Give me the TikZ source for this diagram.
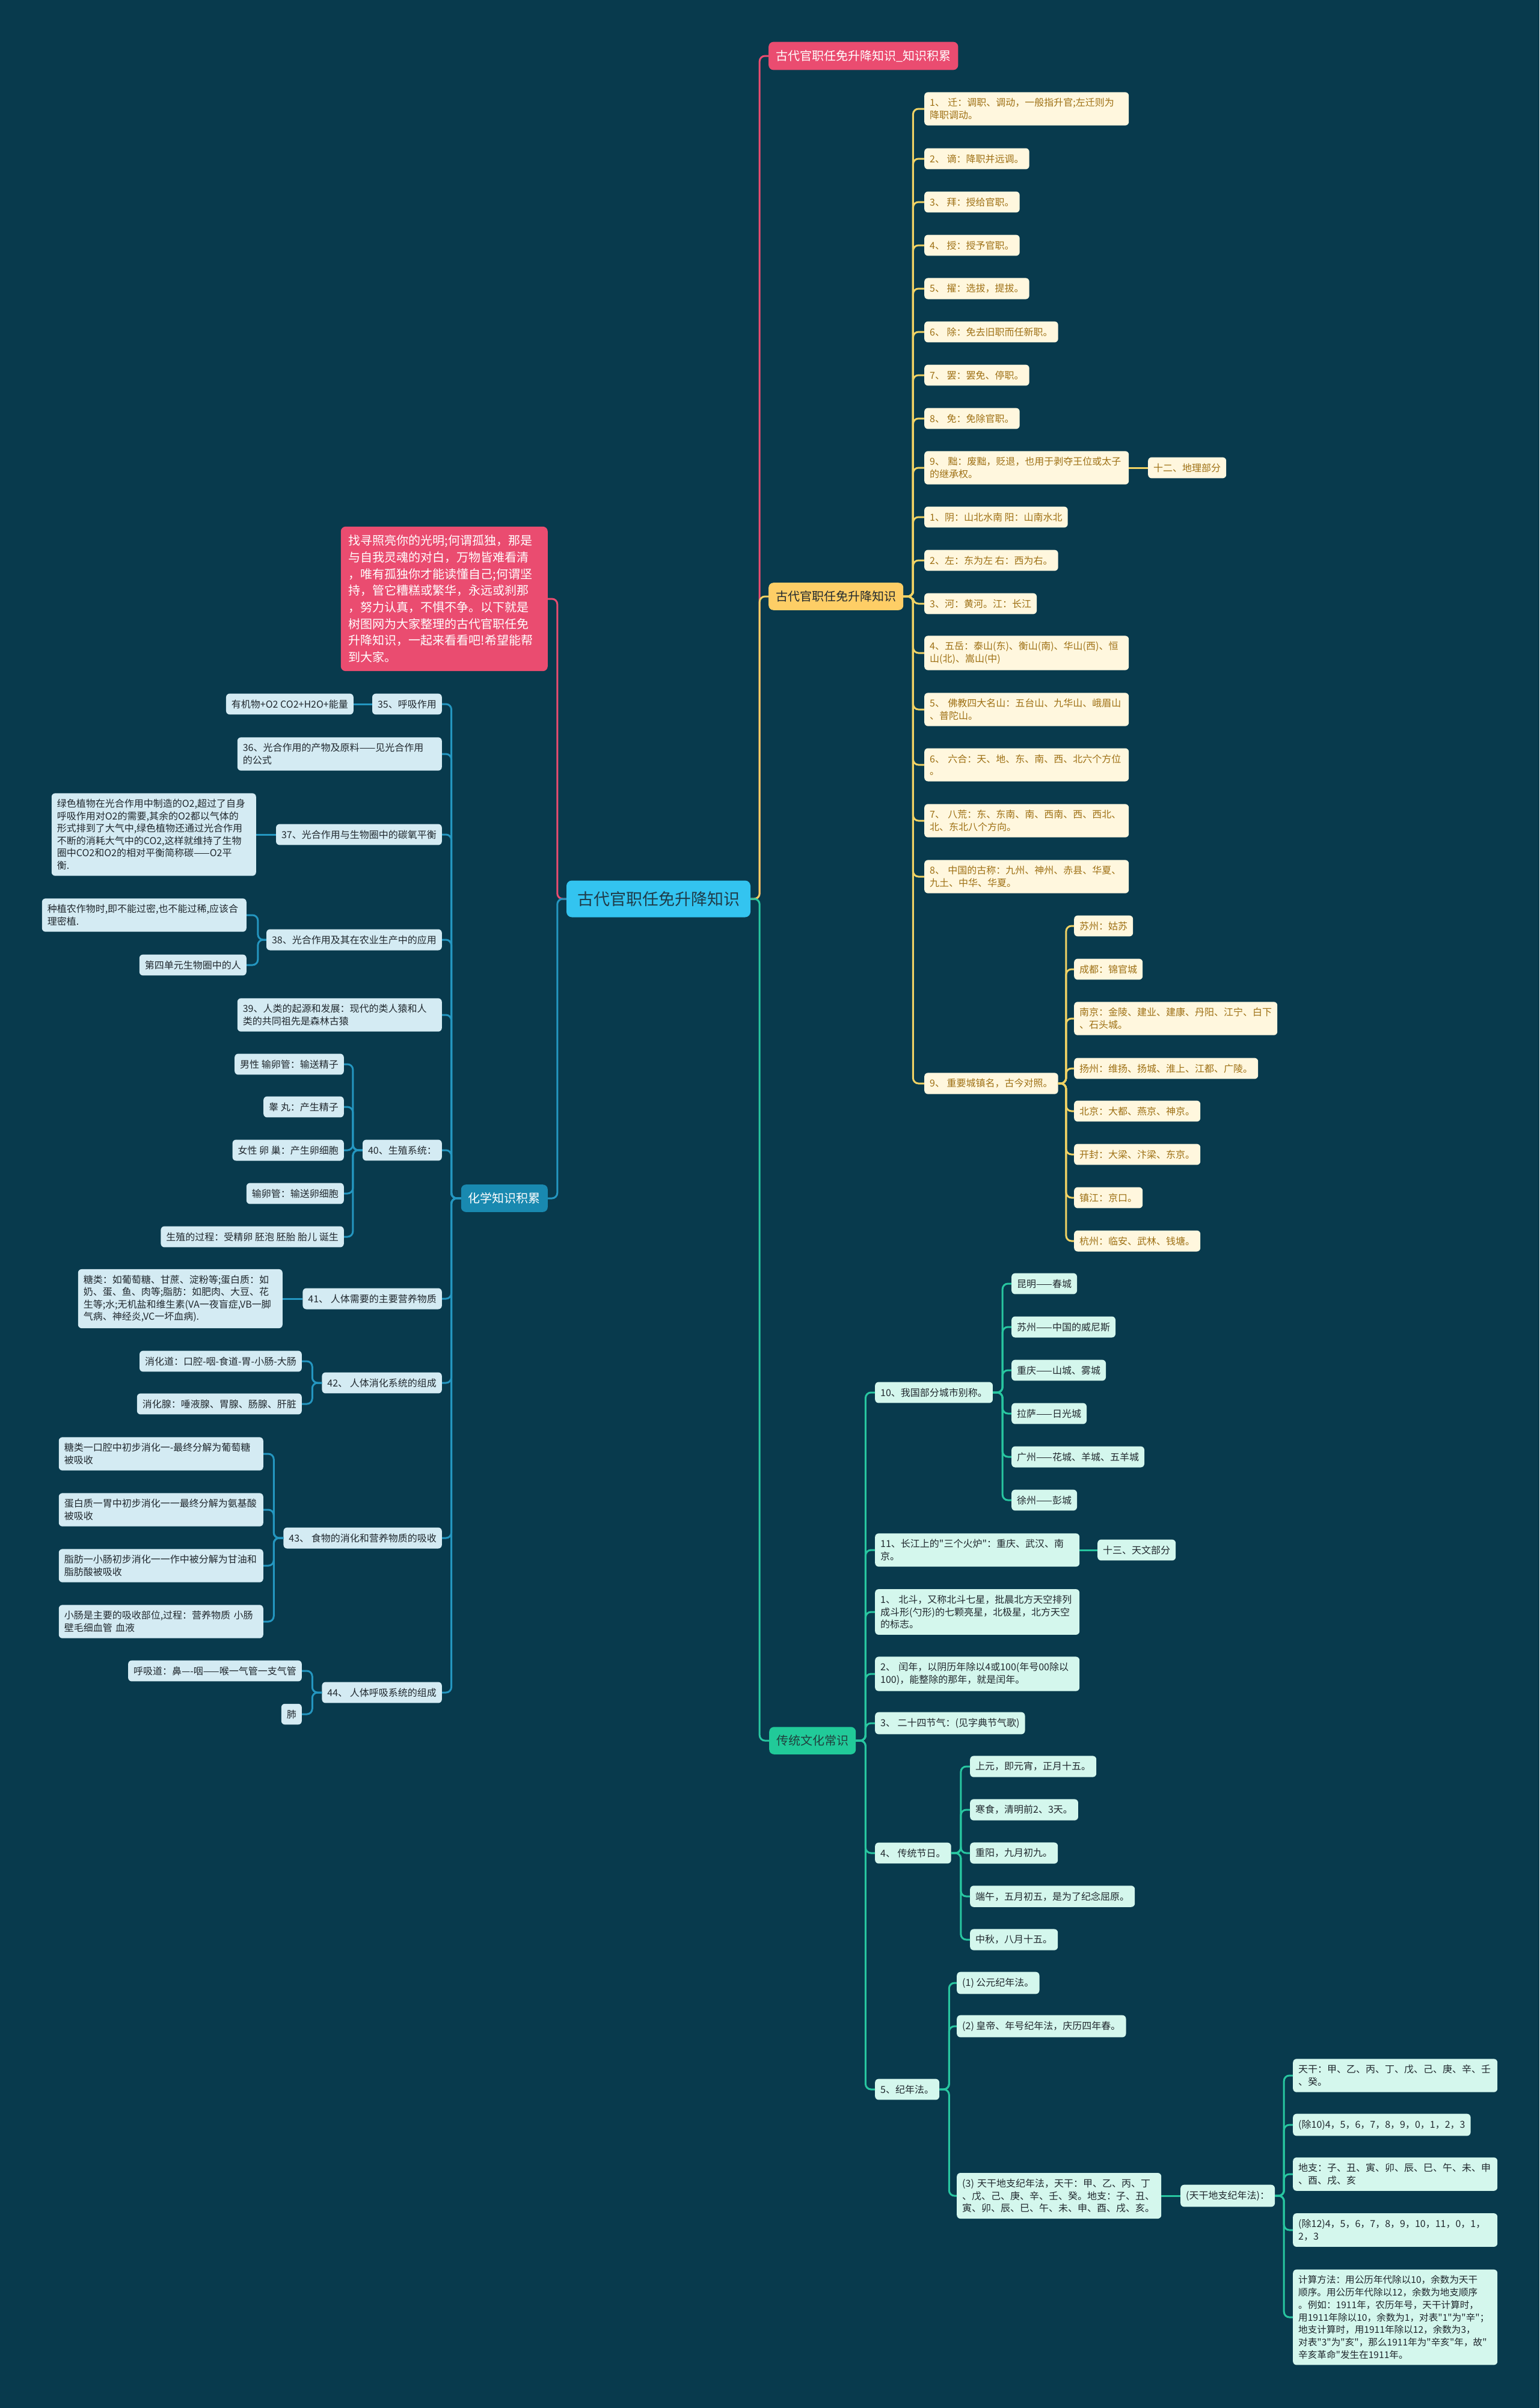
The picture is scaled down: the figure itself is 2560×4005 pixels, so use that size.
\documentclass[tikz,border=0pt]{standalone}
\usepackage{fontspec}
\setmainfont{Noto Sans CJK SC}[Ligatures=TeXOff]
\usepackage{xcolor}
\definecolor{mlbg}{RGB}{8,58,77}
\definecolor{mlpink}{RGB}{234,76,112}
\definecolor{mlyellow}{RGB}{254,206,102}
\definecolor{mlyelline}{RGB}{240,210,100}
\definecolor{mlcream}{RGB}{255,247,222}
\definecolor{mlgold}{RGB}{158,112,20}
\definecolor{mlsky}{RGB}{51,196,240}
\definecolor{mlsea}{RGB}{25,137,176}
\definecolor{mlblueline}{RGB}{36,150,192}
\definecolor{mlice}{RGB}{212,235,243}
\definecolor{mlgreen}{RGB}{33,202,153}
\definecolor{mlgreenline}{RGB}{40,198,160}
\definecolor{mlmint}{RGB}{212,247,237}
\definecolor{mlink}{RGB}{32,40,46}
\usepackage{tikz}
\usetikzlibrary{positioning}

\begin{document}
\begin{tikzpicture}[x=1pt, y=-1pt,
    leafnode/.style={rectangle, rounded corners=6pt, inner xsep=9pt, inner ysep=10pt,
                     align=left, font=\fontsize{16}{20.5}\selectfont},
    wrapped/.style={text width=322pt},
    yleaf/.style={leafnode, fill=mlcream, text=mlgold, anchor=west},
    bleaf/.style={leafnode, fill=mlice, text=mlink, anchor=east},
    gleaf/.style={leafnode, fill=mlmint, text=mlink, anchor=west},
    mainnode/.style={rectangle, rounded corners=8pt, inner xsep=12pt, inner ysep=13.5pt,
                     font=\fontsize{20}{26}\selectfont},
    pinklink/.style={draw=mlpink, line width=3pt, rounded corners=9pt},
    yellink/.style={draw=mlyelline, line width=3pt, rounded corners=9pt},
    bluelink/.style={draw=mlblueline, line width=3pt, rounded corners=9pt},
    greenlink/.style={draw=mlgreenline, line width=3pt, rounded corners=9pt}]

% --- background ---
\fill[mlbg] (0,0) rectangle (2560,4005);

% --- centre ---
\node[rectangle, rounded corners=9pt, fill=mlsky, text=mlink!80!mlsea, inner xsep=18pt, inner ysep=18pt,
      font=\fontsize{27}{32}\selectfont] (root) at (1095,1495) {古代官职任免升降知识};

% --- right: title and office branch ---
\node[mainnode, fill=mlpink, text=white, anchor=west] (title) at (1278,93) {古代官职任免升降知识\_知识积累};
\node[mainnode, fill=mlyellow, text=mlink, anchor=west] (office) at (1278,992) {古代官职任免升降知识};

\node[yleaf, wrapped] (q1) at (1537,181) {1、 迁：调职、调动，一般指升官;左迁则为\\降职调动。};
\node[yleaf] (q2) at (1537,264) {2、 谪：降职并远调。};
\node[yleaf] (q3) at (1537,336) {3、 拜：授给官职。};
\node[yleaf] (q4) at (1537,408) {4、 授：授予官职。};
\node[yleaf] (q5) at (1537,480) {5、 擢：选拔，提拔。};
\node[yleaf] (q6) at (1537,552) {6、 除：免去旧职而任新职。};
\node[yleaf] (q7) at (1537,624) {7、 罢：罢免、停职。};
\node[yleaf] (q8) at (1537,696) {8、 免：免除官职。};
\node[yleaf, wrapped] (q9) at (1537,778) {9、 黜：废黜，贬退，也用于剥夺王位或太子\\的继承权。};
\node[yleaf] (geo) at (1909,778) {十二、地理部分};
\node[yleaf] (g1) at (1537,860) {1、阴：山北水南 阳：山南水北};
\node[yleaf] (g2) at (1537,932) {2、左：东为左 右：西为右。};
\node[yleaf] (g3) at (1537,1004) {3、河：黄河。江：长江};
\node[yleaf, wrapped] (g4) at (1537,1086) {4、五岳：泰山(东)、衡山(南)、华山(西)、恒\\山(北)、嵩山(中)};
\node[yleaf, wrapped] (g5) at (1537,1180) {5、 佛教四大名山：五台山、九华山、峨眉山\\、普陀山。};
\node[yleaf, wrapped] (g6) at (1537,1272) {6、 六合：天、地、东、南、西、北六个方位\\。};
\node[yleaf, wrapped] (g7) at (1537,1365) {7、 八荒：东、东南、南、西南、西、西北、\\北、东北八个方向。};
\node[yleaf, wrapped] (g8) at (1537,1458) {8、 中国的古称：九州、神州、赤县、华夏、\\九土、中华、华夏。};
\node[yleaf] (g9) at (1537,1802) {9、 重要城镇名，古今对照。};

\node[yleaf] (t1) at (1786,1540) {苏州：姑苏};
\node[yleaf] (t2) at (1786,1612) {成都：锦官城};
\node[yleaf] (t3) at (1786,1694) {南京：金陵、建业、建康、丹阳、江宁、白下\\、石头城。};
\node[yleaf] (t4) at (1786,1777) {扬州：维扬、扬城、淮上、江都、广陵。};
\node[yleaf] (t5) at (1786,1848) {北京：大都、燕京、神京。};
\node[yleaf] (t6) at (1786,1920) {开封：大梁、汴梁、东京。};
\node[yleaf] (t7) at (1786,1992) {镇江：京口。};
\node[yleaf] (t8) at (1786,2064) {杭州：临安、武林、钱塘。};

% --- right: culture branch ---
\node[mainnode, fill=mlgreen, text=mlink!85!mlgreen, anchor=west] (culture) at (1279,2895) {传统文化常识};

\node[gleaf] (c10) at (1455,2316) {10、我国部分城市别称。};
\node[gleaf, wrapped] (c11) at (1455,2578) {11、长江上的"三个火炉"：重庆、武汉、南\\京。};
\node[gleaf] (astro) at (1825,2578) {十三、天文部分};
\node[gleaf, wrapped] (c1) at (1455,2681) {1、 北斗，又称北斗七星，批晨北方天空排列\\成斗形(勺形)的七颗亮星，北极星，北方天空\\的标志。};
\node[gleaf, wrapped] (c2) at (1455,2784) {2、 闰年，以阴历年除以4或100(年号00除以\\100)，能整除的那年，就是闰年。};
\node[gleaf] (c3) at (1455,2866) {3、 二十四节气：(见字典节气歌)};
\node[gleaf] (c4) at (1455,3082) {4、 传统节日。};
\node[gleaf] (c5) at (1455,3475) {5、纪年法。};

\node[gleaf] (k1) at (1682,2135) {昆明——春城};
\node[gleaf] (k2) at (1682,2207) {苏州——中国的威尼斯};
\node[gleaf] (k3) at (1682,2279) {重庆——山城、雾城};
\node[gleaf] (k4) at (1682,2351) {拉萨——日光城};
\node[gleaf] (k5) at (1682,2423) {广州——花城、羊城、五羊城};
\node[gleaf] (k6) at (1682,2495) {徐州——彭城};

\node[gleaf] (f1) at (1613,2938) {上元，即元宵，正月十五。};
\node[gleaf] (f2) at (1613,3010) {寒食，清明前2、3天。};
\node[gleaf] (f3) at (1613,3082) {重阳，九月初九。};
\node[gleaf] (f4) at (1613,3154) {端午，五月初五，是为了纪念屈原。};
\node[gleaf] (f5) at (1613,3226) {中秋，八月十五。};

\node[gleaf] (y1) at (1591,3298) {(1) 公元纪年法。};
\node[gleaf] (y2) at (1591,3370) {(2) 皇帝、年号纪年法，庆历四年春。};
\node[gleaf, wrapped] (y3) at (1591,3652) {(3) 天干地支纪年法，天干：甲、乙、丙、丁\\、戊、己、庚、辛、壬、癸。地支：子、丑、\\寅、卯、辰、巳、午、未、申、酉、戌、亥。};
\node[gleaf] (tg) at (1963,3652) {(天干地支纪年法)：};

\node[gleaf, wrapped] (s1) at (2150,3452) {天干：甲、乙、丙、丁、戊、己、庚、辛、壬\\、癸。};
\node[gleaf] (s2) at (2150,3534) {(除10)4，5，6，7，8，9，0，1，2，3};
\node[gleaf, wrapped] (s3) at (2150,3616) {地支：子、丑、寅、卯、辰、巳、午、未、申\\、酉、戌、亥};
\node[gleaf, wrapped] (s4) at (2150,3709) {(除12)4，5，6，7，8，9，10，11，0，1，\\2，3};
\node[gleaf, wrapped, font=\fontsize{15.6}{20.7}\selectfont] (s5) at (2150,3854) {计算方法：用公历年代除以10，余数为天干\\顺序。用公历年代除以12，余数为地支顺序\\。例如：1911年，农历年号，天干计算时，\\用1911年除以10，余数为1，对表"1"为"辛"；\\地支计算时，用1911年除以12，余数为3，\\对表"3"为"亥"，那么1911年为"辛亥"年，故"\\辛亥革命"发生在1911年。};

% --- left: intro and chemistry branch ---
\node[rectangle, rounded corners=8pt, fill=mlpink, text=white, anchor=east, inner xsep=13pt, inner ysep=14pt,
      align=left, text width=318pt, font=\fontsize{20}{27.7}\selectfont] (intro) at (911,996)
      {找寻照亮你的光明;何谓孤独，那是\\与自我灵魂的对白，万物皆难看清\\，唯有孤独你才能读懂自己;何谓坚\\持，管它糟糕或繁华，永远或刹那\\，努力认真，不惧不争。以下就是\\树图网为大家整理的古代官职任免\\升降知识，一起来看看吧!希望能帮\\到大家。};
\node[mainnode, fill=mlsea, text=white, anchor=east] (chem) at (911,1993) {化学知识积累};

\node[bleaf] (n35) at (735,1171) {35、呼吸作用};
\node[bleaf] (n35a) at (588,1171) {有机物+O2 CO2+H2O+能量};
\node[bleaf, wrapped] (n36) at (735,1254) {36、光合作用的产物及原料——见光合作用\\的公式};
\node[bleaf] (n37) at (735,1388) {37、光合作用与生物圈中的碳氧平衡};
\node[bleaf, wrapped] (n37a) at (426,1388) {绿色植物在光合作用中制造的O2,超过了自身\\呼吸作用对O2的需要,其余的O2都以气体的\\形式排到了大气中,绿色植物还通过光合作用\\不断的消耗大气中的CO2,这样就维持了生物\\圈中CO2和O2的相对平衡简称碳——O2平\\衡.};
\node[bleaf] (n38) at (735,1563) {38、光合作用及其在农业生产中的应用};
\node[bleaf, wrapped] (n38a) at (410,1522) {种植农作物时,即不能过密,也不能过稀,应该合\\理密植.};
\node[bleaf] (n38b) at (410,1605) {第四单元生物圈中的人};
\node[bleaf, wrapped] (n39) at (735,1688) {39、人类的起源和发展：现代的类人猿和人\\类的共同祖先是森林古猿};
\node[bleaf] (n40) at (735,1913) {40、生殖系统：};
\node[bleaf] (n40a) at (572,1770) {男性 输卵管：输送精子};
\node[bleaf] (n40b) at (572,1841) {睾 丸：产生精子};
\node[bleaf] (n40c) at (572,1913) {女性 卵 巢：产生卵细胞};
\node[bleaf] (n40d) at (572,1985) {输卵管：输送卵细胞};
\node[bleaf] (n40e) at (572,2057) {生殖的过程：受精卵 胚泡 胚胎 胎儿 诞生};
\node[bleaf] (n41) at (735,2160) {41、 人体需要的主要营养物质};
\node[bleaf, wrapped] (n41a) at (470,2160) {糖类：如葡萄糖、甘蔗、淀粉等;蛋白质：如\\奶、蛋、鱼、肉等;脂肪：如肥肉、大豆、花\\生等;水;无机盐和维生素(VA一夜盲症,VB一脚\\气病、神经炎,VC一坏血病).};
\node[bleaf] (n42) at (735,2300) {42、 人体消化系统的组成};
\node[bleaf] (n42a) at (502,2264) {消化道：口腔-咽-食道-胃-小肠-大肠};
\node[bleaf] (n42b) at (502,2335) {消化腺：唾液腺、胃腺、肠腺、肝脏};
\node[bleaf] (n43) at (735,2558) {43、 食物的消化和营养物质的吸收};
\node[bleaf, wrapped] (n43a) at (438,2418) {糖类一口腔中初步消化一-最终分解为葡萄糖\\被吸收};
\node[bleaf, wrapped] (n43b) at (438,2511) {蛋白质一胃中初步消化一一最终分解为氨基酸\\被吸收};
\node[bleaf, wrapped] (n43c) at (438,2604) {脂肪一小肠初步消化一一作中被分解为甘油和\\脂肪酸被吸收};
\node[bleaf, wrapped] (n43d) at (438,2697) {小肠是主要的吸收部位,过程：营养物质 小肠\\壁毛细血管 血液};
\node[bleaf] (n44) at (735,2815) {44、 人体呼吸系统的组成};
\node[bleaf] (n44a) at (502,2779) {呼吸道：鼻—-咽——喉一气管一支气管};
\node[bleaf] (n44b) at (502,2851) {肺};

% --- connectors ---
\draw[pinklink] (root.east) -- ++(15,0) |- (title.west);
\draw[yellink] (root.east) -- ++(15,0) |- (office.west);
\draw[greenlink] (root.east) -- ++(15,0) |- (culture.west);
\draw[pinklink] (root.west) -- ++(-15,0) |- (intro.east);
\draw[bluelink] (root.west) -- ++(-15,0) |- (chem.east);

\foreach \n in {q1,q2,q3,q4,q5,q6,q7,q8,q9,g1,g2,g3,g4,g5,g6,g7,g8,g9}
    \draw[yellink] (office.east) -- ++(16,0) |- (\n.west);
\draw[yellink] (q9.east) -- (geo.west);
\foreach \n in {t1,t2,t3,t4,t5,t6,t7,t8}
    \draw[yellink] (g9.east) -- ++(13,0) |- (\n.west);

\foreach \n in {c10,c11,c1,c2,c3,c4,c5}
    \draw[greenlink] (culture.east) -- ++(16,0) |- (\n.west);
\draw[greenlink] (c11.east) -- (astro.west);
\foreach \n in {k1,k2,k3,k4,k5,k6}
    \draw[greenlink] (c10.east) -- ++(16,0) |- (\n.west);
\foreach \n in {f1,f2,f3,f4,f5}
    \draw[greenlink] (c4.east) -- ++(16,0) |- (\n.west);
\foreach \n in {y1,y2,y3}
    \draw[greenlink] (c5.east) -- ++(16,0) |- (\n.west);
\draw[greenlink] (y3.east) -- (tg.west);
\foreach \n in {s1,s2,s3,s4,s5}
    \draw[greenlink] (tg.east) -- ++(15,0) |- (\n.west);

\foreach \n in {n35,n36,n37,n38,n39,n40,n41,n42,n43,n44}
    \draw[bluelink] (chem.west) -- ++(-16,0) |- (\n.east);
\draw[bluelink] (n35.west) -- (n35a.east);
\draw[bluelink] (n37.west) -- (n37a.east);
\draw[bluelink] (n41.west) -- (n41a.east);
\foreach \n in {n38a,n38b}
    \draw[bluelink] (n38.west) -- ++(-14,0) |- (\n.east);
\foreach \n in {n40a,n40b,n40c,n40d,n40e}
    \draw[bluelink] (n40.west) -- ++(-16,0) |- (\n.east);
\foreach \n in {n42a,n42b}
    \draw[bluelink] (n42.west) -- ++(-16,0) |- (\n.east);
\foreach \n in {n43a,n43b,n43c,n43d}
    \draw[bluelink] (n43.west) -- ++(-16,0) |- (\n.east);
\foreach \n in {n44a,n44b}
    \draw[bluelink] (n44.west) -- ++(-16,0) |- (\n.east);

\end{tikzpicture}
\end{document}
